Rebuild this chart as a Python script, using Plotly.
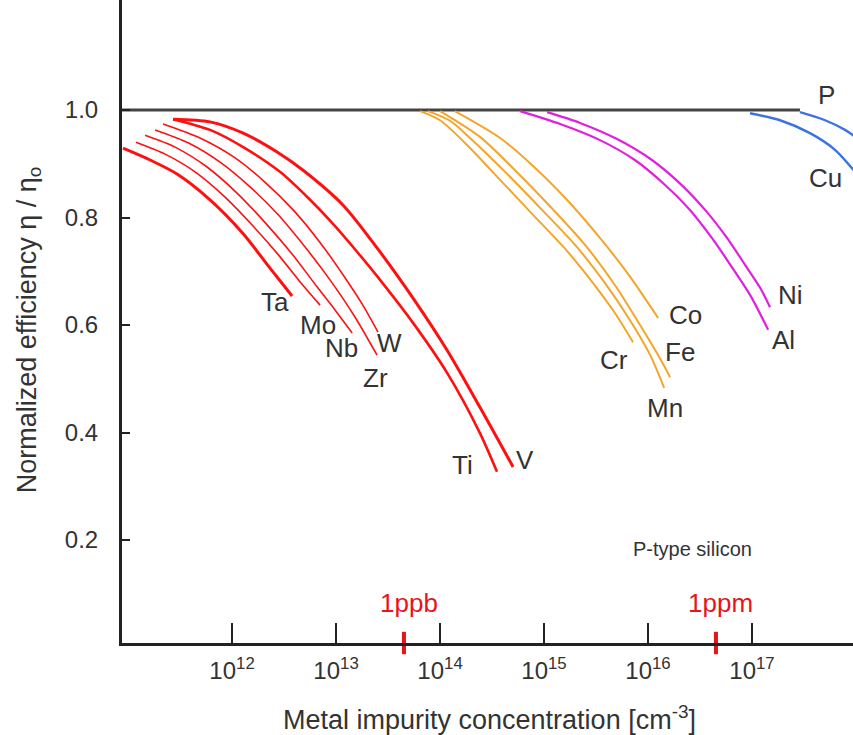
import math
import plotly.graph_objects as go

# ---------------- data ----------------
# concentration in cm^-3, normalized efficiency eta/eta0
ta_x = [8.95e10, 1.63e11, 2.96e11, 6.14e11, 1.28e12, 2.19e12, 3.78e12]
ta_y = [0.929, 0.907, 0.881, 0.833, 0.770, 0.712, 0.654]

mo_x = [1.19e11, 2.27e11, 4.41e11, 8.57e11, 1.56e12, 2.78e12, 4.52e12, 7.02e12]
mo_y = [0.940, 0.918, 0.885, 0.838, 0.786, 0.731, 0.680, 0.637]

nb_x = [1.46e11, 2.83e11, 5.75e11, 1.11e12, 2.07e12, 3.78e12, 6.57e12, 9.78e12, 1.43e13]
nb_y = [0.953, 0.931, 0.894, 0.846, 0.791, 0.732, 0.671, 0.628, 0.585]

zr_x = [1.82e11, 3.78e11, 7.67e11, 1.49e12, 2.78e12, 5.04e12, 8.75e12, 1.52e13, 2.48e13]
zr_y = [0.963, 0.939, 0.903, 0.857, 0.805, 0.745, 0.684, 0.615, 0.544]

w_x = [2.17e11, 4.92e11, 1.07e12, 2.07e12, 4.01e12, 7.31e12, 1.22e13, 1.81e13, 2.53e13]
w_y = [0.974, 0.948, 0.911, 0.866, 0.811, 0.749, 0.688, 0.637, 0.587]

ti_x = [2.71e11, 6.14e11, 1.28e12, 2.89e12, 5.62e12, 9.78e12, 1.63e13, 2.65e13, 5.50e13, 1.17e14, 2.42e14, 3.53e14]
ti_y = [0.983, 0.963, 0.931, 0.885, 0.833, 0.784, 0.734, 0.684, 0.604, 0.511, 0.399, 0.327]

v_x = [2.71e11, 6.14e11, 1.28e12, 2.71e12, 4.82e12, 1.17e13, 2.65e13, 5.50e13, 1.17e14, 2.42e14, 5.04e14]
v_y = [0.983, 0.978, 0.957, 0.922, 0.888, 0.823, 0.736, 0.650, 0.553, 0.447, 0.336]

cr_x = [6.43e13, 1.00e14, 1.82e14, 3.78e14, 7.84e14, 1.66e15, 2.96e15, 4.82e15, 7.18e15]
cr_y = [0.998, 0.981, 0.935, 0.870, 0.805, 0.738, 0.678, 0.622, 0.568]

mn_x = [7.67e13, 1.25e14, 1.94e14, 4.22e14, 9.16e14, 1.99e15, 3.86e15, 6.71e15, 1.05e16, 1.43e16]
mn_y = [0.998, 0.980, 0.948, 0.885, 0.818, 0.749, 0.678, 0.609, 0.544, 0.483]

fe_x = [1.0e14, 2.42e14, 5.26e14, 1.14e15, 2.48e15, 4.82e15, 8.38e15, 1.25e16, 1.63e16]
fe_y = [0.998, 0.950, 0.888, 0.821, 0.749, 0.674, 0.600, 0.544, 0.503]

co_x = [1.39e14, 3.78e14, 7.84e14, 1.66e15, 3.45e15, 6.71e15, 1.25e16]
co_y = [0.998, 0.948, 0.896, 0.833, 0.762, 0.690, 0.613]

al_x = [5.88e14, 1.43e15, 3.45e15, 7.47e15, 1.45e16, 2.53e16, 4.11e16, 6.14e16, 9.57e16, 1.43e17]
al_y = [0.998, 0.974, 0.944, 0.907, 0.861, 0.814, 0.762, 0.713, 0.656, 0.591]

ni_x = [1.07e15, 2.22e15, 5.04e15, 1.09e16, 2.17e16, 3.69e16, 5.75e16, 8.57e16, 1.20e17, 1.49e17]
ni_y = [0.996, 0.976, 0.946, 0.907, 0.858, 0.810, 0.762, 0.712, 0.669, 0.633]

cu_x = [9.57e16, 1.86e17, 3.61e17, 6.28e17, 9.78e17]
cu_y = [0.994, 0.981, 0.957, 0.926, 0.885]

p_x = [2.89e17, 5.04e17, 7.84e17, 1.09e18]
p_y = [0.996, 0.981, 0.963, 0.944]

ref_x = [8.7e10, 2.89e17]
ref_y = [1.0, 1.0]

marker_x = [4.5e13, 4.5e16]
marker_names = ["1ppb", "1ppm"]

x_tickvals = [1e12, 1e13, 1e14, 1e15, 1e16, 1e17]
x_ticktext = ["10<sup>12</sup>", "10<sup>13</sup>", "10<sup>14</sup>",
              "10<sup>15</sup>", "10<sup>16</sup>", "10<sup>17</sup>"]
y_tickvals = [0.2, 0.4, 0.6, 0.8, 1.0]
y_ticktext = ["0.2", "0.4", "0.6", "0.8", "1.0"]

# element labels: name, x, y
label_names = ["Ta", "Mo", "Nb", "W", "Zr", "Ti", "V", "Cr", "Co", "Fe", "Mn", "Ni", "Al", "P", "Cu"]
label_x = [2.59e12, 6.71e12, 1.14e13, 3.30e13, 2.37e13, 1.63e14, 6.56e14, 4.71e15, 2.27e16,
           2.03e16, 1.46e16, 2.32e17, 1.99e17, 5.15e17, 5.04e17]
label_y = [0.643, 0.600, 0.557, 0.567, 0.501, 0.340, 0.349, 0.535, 0.619,
           0.550, 0.446, 0.656, 0.572, 1.028, 0.873]

# ---------------- styles ----------------
RED = "#ff1010"
ORANGE = "#f4a52a"
MAGENTA = "#e020e0"
BLUE = "#3b72e6"
TXT = "#333333"
FONT = "Liberation Sans, Arial, sans-serif"
Y_RANGE = [0.0084, 1.2047]

series = [
    (ta_x, ta_y, RED, 3.0), (mo_x, mo_y, RED, 1.6), (nb_x, nb_y, RED, 1.6),
    (zr_x, zr_y, RED, 1.6), (w_x, w_y, RED, 1.6), (ti_x, ti_y, RED, 2.6),
    (v_x, v_y, RED, 3.0),
    (cr_x, cr_y, ORANGE, 2.0), (mn_x, mn_y, ORANGE, 2.0), (fe_x, fe_y, ORANGE, 2.0),
    (co_x, co_y, ORANGE, 2.0),
    (al_x, al_y, MAGENTA, 2.2), (ni_x, ni_y, MAGENTA, 2.2),
    (cu_x, cu_y, BLUE, 2.4), (p_x, p_y, BLUE, 2.4),
]

fig = go.Figure()

fig.add_trace(go.Scatter(x=ref_x, y=ref_y, mode="lines",
                         line=dict(color="#444444", width=3), hoverinfo="skip"))

for xs, ys, col, w in series:
    fig.add_trace(go.Scatter(x=xs, y=ys, mode="lines",
                             line=dict(color=col, width=w, shape="spline", smoothing=0.8),
                             hoverinfo="skip"))

# 1ppb / 1ppm red marks sitting on the x axis line
fig.add_trace(go.Scatter(x=marker_x, y=[Y_RANGE[0]] * len(marker_x), mode="markers",
                         cliponaxis=False,
                         marker=dict(symbol="line-ns", size=16,
                                     line=dict(color="#e8141b", width=4)),
                         hoverinfo="skip"))

LOG = math.log10  # annotation positions on a log axis are given in log units

for name, xv in zip(marker_names, marker_x):
    fig.add_annotation(x=LOG(xv), y=0.083, xref="x", yref="y", text=name, showarrow=False,
                       font=dict(family=FONT, size=26, color="#e8141b"),
                       xanchor="center", yanchor="middle", xshift=5)

for name, xv, yv in zip(label_names, label_x, label_y):
    fig.add_annotation(x=LOG(xv), y=yv, xref="x", yref="y", text=name, showarrow=False,
                       font=dict(family=FONT, size=26, color=TXT),
                       xanchor="center", yanchor="middle")

fig.add_annotation(x=LOG(2.65e16), y=0.183, xref="x", yref="y", text="P-type silicon",
                   showarrow=False, font=dict(family=FONT, size=20, color=TXT),
                   xanchor="center", yanchor="middle")

# axis titles
fig.add_annotation(x=0.503, y=-0.1166, xref="paper", yref="paper",
                   text="Metal impurity concentration [cm<sup>-3</sup>]",
                   showarrow=False, font=dict(family=FONT, size=27, color=TXT),
                   xanchor="center", yanchor="middle")
fig.add_annotation(x=-0.128, y=0.487, xref="paper", yref="paper",
                   text="Normalized efficiency η / η<sub>o</sub>", textangle=-90,
                   showarrow=False, font=dict(family=FONT, size=27, color=TXT),
                   xanchor="center", yanchor="middle")

fig.update_layout(
    width=853, height=735,
    margin=dict(l=122, r=0, t=0, b=92),
    paper_bgcolor="white", plot_bgcolor="white",
    showlegend=False,
    font=dict(family=FONT, color=TXT),
    xaxis=dict(type="log", range=[10.942, 17.971], showgrid=False, zeroline=False,
               showline=True, linecolor="#222222", linewidth=3,
               tickmode="array", tickvals=x_tickvals, ticktext=x_ticktext,
               ticks="inside", ticklen=20, tickwidth=2, tickcolor="#222222",
               tickfont=dict(family=FONT, size=24, color=TXT),
               ticklabelstandoff=4),
    yaxis=dict(range=Y_RANGE, showgrid=False, zeroline=False,
               showline=True, linecolor="#222222", linewidth=3,
               tickmode="array", tickvals=y_tickvals, ticktext=y_ticktext,
               ticks="inside", ticklen=8, tickwidth=2, tickcolor="#222222",
               tickfont=dict(family=FONT, size=24, color=TXT),
               ticklabelstandoff=16),
)

fig.write_html("out.html")
